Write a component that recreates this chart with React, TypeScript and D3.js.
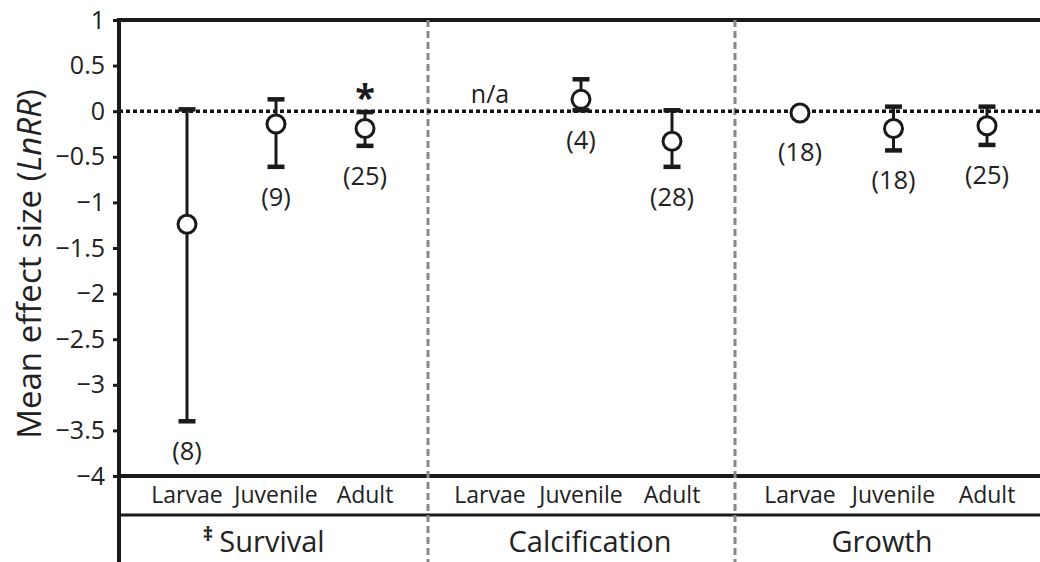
import { useEffect, useRef } from 'react';
import * as d3 from 'd3';

const groups = ['Survival', 'Calcification', 'Growth'];
const stages = ['Larvae', 'Juvenile', 'Adult'];

// per group: Larvae, Juvenile, Adult (null = n/a)
const means = [
  [-1.24, -0.14, -0.19],
  [null, 0.13, -0.33],
  [-0.02, -0.19, -0.16],
];
const upper = [
  [0.02, 0.13, -0.01],
  [null, 0.35, 0.01],
  [-0.02, 0.05, 0.05],
];
const lower = [
  [-3.4, -0.61, -0.38],
  [null, 0.01, -0.61],
  [-0.02, -0.43, -0.37],
];
const sampleSizes = [
  [8, 9, 25],
  [null, 4, 28],
  [18, 18, 25],
];
const significant = [
  [false, false, true],
  [false, false, false],
  [false, false, false],
];
const yTicks = [1, 0.5, 0, -0.5, -1, -1.5, -2, -2.5, -3, -3.5, -4];

const FONT = '"Open Sans", "Noto Sans", sans-serif';
const INK = '#1a1a1a';

export default function App() {
  const svgRef = useRef<SVGSVGElement>(null);
  const width = 1040;
  const height = 562;

  useEffect(() => {
    if (!svgRef.current) return;
    const svg = d3.select(svgRef.current);
    svg.selectAll('*').remove();

    const axisX = 119;
    const right = 1040;
    const y = d3.scaleLinear().domain([-4, 1]).range([476, 20]);
    const stageRowY = 515;

    // group panels, point positions and title centres
    const panelEdges = [axisX, 428, 735, right];
    const pointRanges: [number, number][] = [[187, 365], [490, 672], [800, 987]];
    const titleX = [272, 590, 882];
    const xs = pointRanges.map(r => d3.scalePoint<string>().domain(stages).range(r));

    // frame lines
    svg.append('line').attr('x1', axisX).attr('x2', right)
      .attr('y1', y(1)).attr('y2', y(1))
      .attr('stroke', INK).attr('stroke-width', 4);
    svg.append('line').attr('x1', axisX).attr('x2', right)
      .attr('y1', y(-4)).attr('y2', y(-4))
      .attr('stroke', INK).attr('stroke-width', 4);
    svg.append('line').attr('x1', axisX).attr('x2', right)
      .attr('y1', stageRowY).attr('y2', stageRowY)
      .attr('stroke', INK).attr('stroke-width', 3);

    // dashed group separators
    panelEdges.slice(1, 3).forEach(px => {
      svg.append('line').attr('x1', px).attr('x2', px)
        .attr('y1', y(1)).attr('y2', height)
        .attr('stroke', '#888').attr('stroke-width', 3)
        .attr('stroke-dasharray', '7 4');
    });

    // zero reference
    svg.append('line').attr('x1', axisX).attr('x2', right)
      .attr('y1', y(0)).attr('y2', y(0))
      .attr('stroke', '#111').attr('stroke-width', 3.5)
      .attr('stroke-dasharray', '4 3');

    // y axis
    const axis = svg.append('g')
      .attr('transform', `translate(${axisX},0)`)
      .call(d3.axisLeft(y).tickValues(yTicks).tickSize(6).tickPadding(8)
        .tickFormat(d => d3.format('')(d as number).replace('-', '\u2212')));
    axis.select('.domain').remove();
    axis.selectAll('.tick line').attr('stroke', INK).attr('stroke-width', 3);
    axis.selectAll('.tick text')
      .attr('font-family', FONT).attr('font-size', 25).attr('fill', '#222');
    svg.append('line').attr('x1', axisX).attr('x2', axisX)
      .attr('y1', y(1) - 2).attr('y2', height)
      .attr('stroke', INK).attr('stroke-width', 4);

    // axis title
    const title = svg.append('text')
      .attr('transform', `translate(41,264) rotate(-90)`)
      .attr('text-anchor', 'middle')
      .attr('font-family', FONT).attr('font-size', 33).attr('fill', '#222');
    title.append('tspan').text('Mean effect size (');
    title.append('tspan').attr('font-style', 'italic').text('LnRR');
    title.append('tspan').text(')');

    groups.forEach((g, gi) => {
      const x = xs[gi];

      stages.forEach((s, si) => {
        const px = x(s)!;
        svg.append('text')
          .attr('x', px).attr('y', 503)
          .attr('text-anchor', 'middle')
          .attr('font-family', FONT).attr('font-size', 23).attr('fill', '#222')
          .text(s);

        const m = means[gi][si];
        if (m === null) {
          svg.append('text')
            .attr('x', px).attr('y', 103)
            .attr('text-anchor', 'middle')
            .attr('font-family', FONT).attr('font-size', 25).attr('fill', '#222')
            .text('n/a');
          return;
        }
        const hi = upper[gi][si]!;
        const lo = lower[gi][si]!;
        if (hi - lo > 0.05) {
          svg.append('line').attr('x1', px).attr('x2', px)
            .attr('y1', y(hi)).attr('y2', y(lo))
            .attr('stroke', INK).attr('stroke-width', 3);
          [hi, lo].forEach(v => {
            svg.append('line').attr('x1', px - 8.5).attr('x2', px + 8.5)
              .attr('y1', y(v)).attr('y2', y(v))
              .attr('stroke', INK).attr('stroke-width', 4.5);
          });
        }
        svg.append('circle')
          .attr('cx', px).attr('cy', y(m)).attr('r', 9)
          .attr('fill', '#fff').attr('stroke', INK).attr('stroke-width', 3);

        const labelY = Math.max(y(lo), y(m) + 9) + 32;
        svg.append('text')
          .attr('x', px).attr('y', labelY)
          .attr('text-anchor', 'middle').attr('dominant-baseline', 'middle')
          .attr('font-family', FONT).attr('font-size', 25.5).attr('fill', '#222')
          .text(`(${sampleSizes[gi][si]})`);

        if (significant[gi][si]) {
          svg.append('text')
            .attr('x', px).attr('y', y(hi) - 2)
            .attr('text-anchor', 'middle')
            .attr('font-family', FONT).attr('font-size', 36).attr('font-weight', 'bold')
            .attr('fill', INK)
            .text('*');
        }
      });

      svg.append('text')
        .attr('x', titleX[gi]).attr('y', 552)
        .attr('text-anchor', 'middle')
        .attr('font-family', FONT).attr('font-size', 29).attr('fill', '#222')
        .text(g);
      if (gi === 0) {
        svg.append('text')
          .attr('x', 213).attr('y', 541)
          .attr('text-anchor', 'end')
          .attr('font-family', FONT).attr('font-size', 20).attr('font-weight', 'bold')
          .attr('fill', '#222')
          .text('\u2021');
      }
    });
  }, []);

  return (
    <svg ref={svgRef} width={width} height={height}
      style={{ position: 'absolute', left: 0, top: 0, background: '#fff' }} />
  );
}
